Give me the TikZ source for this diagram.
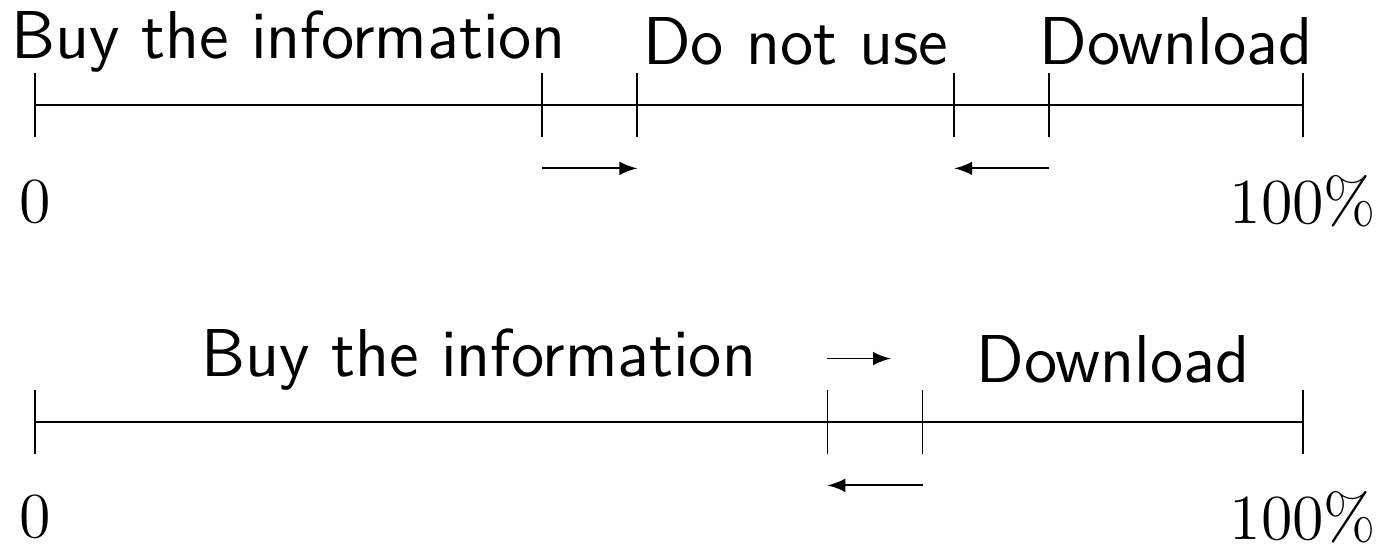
\documentclass[tikz,border=0pt]{standalone}
\usepackage{amsmath}
\usepackage{tikz}

\begin{document}
\begin{tikzpicture}[>=latex,
    lbl/.style = {anchor=base, font=\sffamily\fontsize{15.2}{18}\selectfont, inner sep=0pt},
    pct/.style = {font=\Large, inner sep=0pt}]
 \useasboundingbox (-0.276,0.828) rectangle (10.647,-3.470);
 % first case
 \foreach \name/\x in {a0/0, a4/4, a475/4.75, a725/7.25, a8/8, a10/10}{
    \coordinate (\name) at (\x,0);
    \draw ([yshift=-0.25cm]\name) -- ([yshift=0.25cm]\name);
 }
 \draw (a0) -- (a10);
 \coordinate (p4) at (4,-0.5);
 \coordinate (p475) at (4.75,-0.5);
 \coordinate (p725) at (7.25,-0.5);
 \coordinate (p8) at (8,-0.5);
 \draw[->] (p4) -- (p475);
 \draw[->] (p8) -- (p725);
 \node[lbl] (buy) at (2,0.37) {Buy the information};
 \node[lbl] (nouse) at (6,0.32) {Do not use};
 \node[lbl] (down) at (9,0.32) {Download};
 \node[pct] (zero) at (0,-0.76) {$0$};
 \node[pct] (full) at (10,-0.76) {$100\%$};
 % second case
 \foreach \name/\x in {b0/0, b625/6.25, b7/7, b10/10}{
    \coordinate (\name) at (\x,-2.5);
    \draw ([yshift=-0.25cm]\name) -- ([yshift=0.25cm]\name);
 }
 \draw (b0) -- (b10);
 \coordinate (q625) at (6.25,-2);
 \coordinate (q675) at (6.75,-2);
 \coordinate (r625) at (6.25,-3);
 \coordinate (r7) at (7,-3);
 \draw[->] (q625) -- (q675);
 \draw[->] (r7) -- (r625);
 \node[lbl] (buy2) at (3.5,-2.145) {Buy the information};
 \node[lbl] (down2) at (8.5,-2.185) {Download};
 \node[pct] (zero2) at (0,-3.25) {$0$};
 \node[pct] (full2) at (10,-3.25) {$100\%$};
\end{tikzpicture}
\end{document}
